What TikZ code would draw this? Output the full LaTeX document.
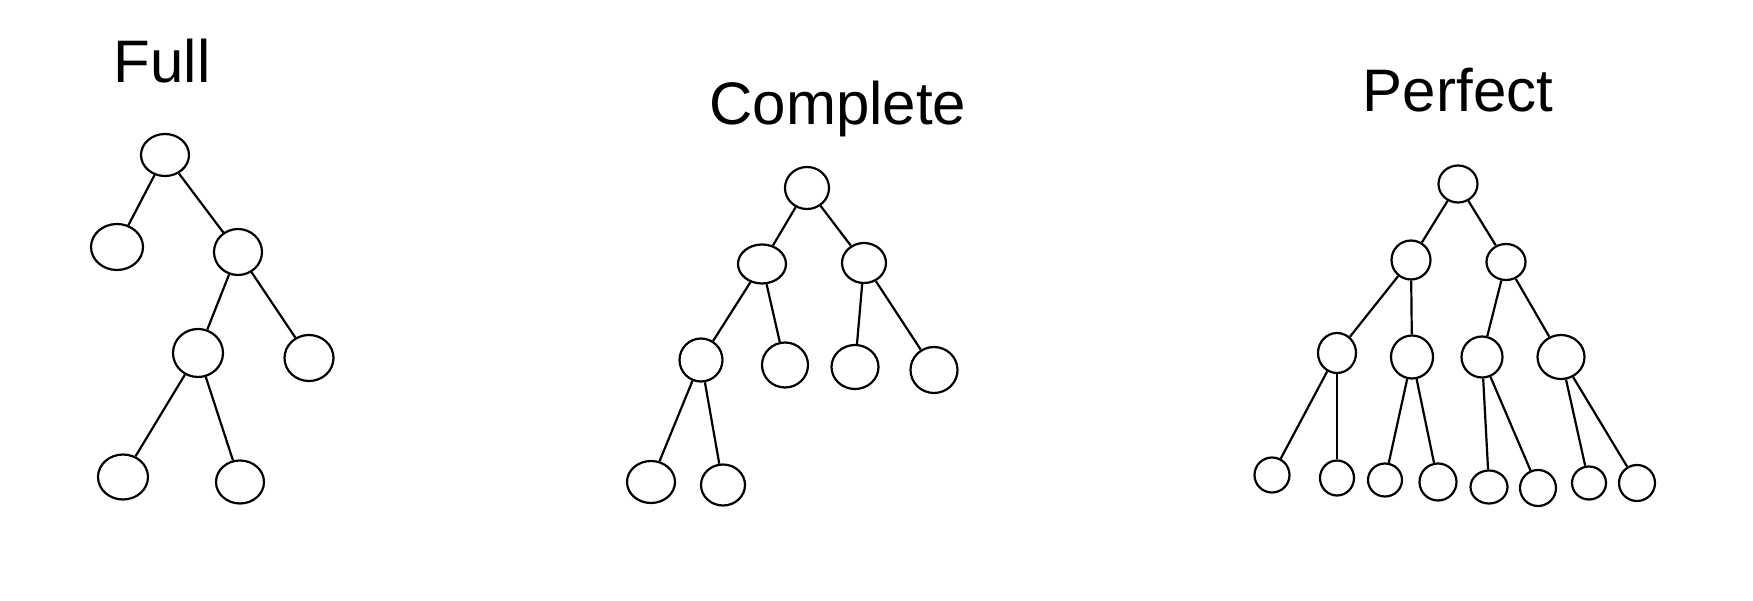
\documentclass[tikz,border=0pt]{standalone}
\usepackage{fontspec}
\setmainfont{Liberation Sans}
\usetikzlibrary{shapes.geometric}
\begin{document}
\begin{tikzpicture}[x=1pt,y=-1pt,
  vert/.style args={#1/#2}{ellipse,draw,line width=2.2pt,inner sep=0pt,
    minimum width=#1pt,minimum height=#2pt},
  edge/.style={line width=2.2pt},
  title/.style={anchor=base,inner sep=0pt,font=\fontsize{60}{72}\selectfont}]
\useasboundingbox[fill=white] (0,0) rectangle (1753,601);

% ---- Full tree ----
\node[title] (tfull) at (162,83) {Full};
\node[vert=48/42] (f0) at (165,155) {};
\node[vert=52/46] (f1) at (117,247) {};
\node[vert=48/46] (f2) at (238,252) {};
\node[vert=50/48] (f3) at (198,353) {};
\node[vert=49/46] (f4) at (309,358) {};
\node[vert=50/45] (f5) at (123,477) {};
\node[vert=48/43] (f6) at (240,482) {};
\draw[edge] (f0) -- (f1);
\draw[edge] (f0) -- (f2);
\draw[edge] (f2) -- (f3);
\draw[edge] (f2) -- (f4);
\draw[edge] (f3) -- (f5);
\draw[edge] (f3) -- (f6);

% ---- Complete tree ----
\node[title] (tcomp) at (838,125) {Complete};
\node[vert=44/42] (c0) at (807,188) {};
\node[vert=48/39] (c1) at (762,264) {};
\node[vert=44/40] (c2) at (864,263) {};
\node[vert=43/43] (c3) at (701,360) {};
\node[vert=46/45] (c4) at (785,365) {};
\node[vert=47/44] (c5) at (855,367) {};
\node[vert=47/46] (c6) at (934,370) {};
\node[vert=48/42] (c7) at (651,482) {};
\node[vert=44/41] (c8) at (723,485) {};
\draw[edge] (c0) -- (c1);
\draw[edge] (c0) -- (c2);
\draw[edge] (c1) -- (c3);
\draw[edge] (c1) -- (c4);
\draw[edge] (c2) -- (c5);
\draw[edge] (c2) -- (c6);
\draw[edge] (c3) -- (c7);
\draw[edge] (c3) -- (c8);

% ---- Perfect tree ----
\node[title] (tperf) at (1458,112) {Perfect};
\node[vert=39/37] (p0) at (1458,184) {};
\node[vert=39/39] (p1) at (1411,260) {};
\node[vert=39/36] (p2) at (1506,262) {};
\node[vert=38/40] (p3) at (1337,353) {};
\node[vert=42/43] (p4) at (1412,357) {};
\node[vert=41/41] (p5) at (1482,357) {};
\node[vert=47/44] (p6) at (1561,357) {};
\node[vert=35/35] (p7) at (1272,475) {};
\node[vert=34/35] (p8) at (1337,478) {};
\node[vert=34/33] (p9) at (1385,480) {};
\node[vert=37/37] (p10) at (1438,482) {};
\node[vert=37/33] (p11) at (1489,487) {};
\node[vert=36/36] (p12) at (1538,488) {};
\node[vert=34/33] (p13) at (1589,483) {};
\node[vert=36/36] (p14) at (1637,483) {};
\draw[edge] (p0) -- (p1);
\draw[edge] (p0) -- (p2);
\draw[edge] (p1) -- (p3);
\draw[edge] (p1) -- (p4);
\draw[edge] (p2) -- (p5);
\draw[edge] (p2) -- (p6);
\draw[edge] (p3) -- (p7);
\draw[edge] (p3) -- (p8);
\draw[edge] (p4) -- (p9);
\draw[edge] (p4) -- (p10);
\draw[edge] (p5) -- (p11);
\draw[edge] (p5) -- (p12);
\draw[edge] (p6) -- (p13);
\draw[edge] (p6) -- (p14);
\end{tikzpicture}
\end{document}
